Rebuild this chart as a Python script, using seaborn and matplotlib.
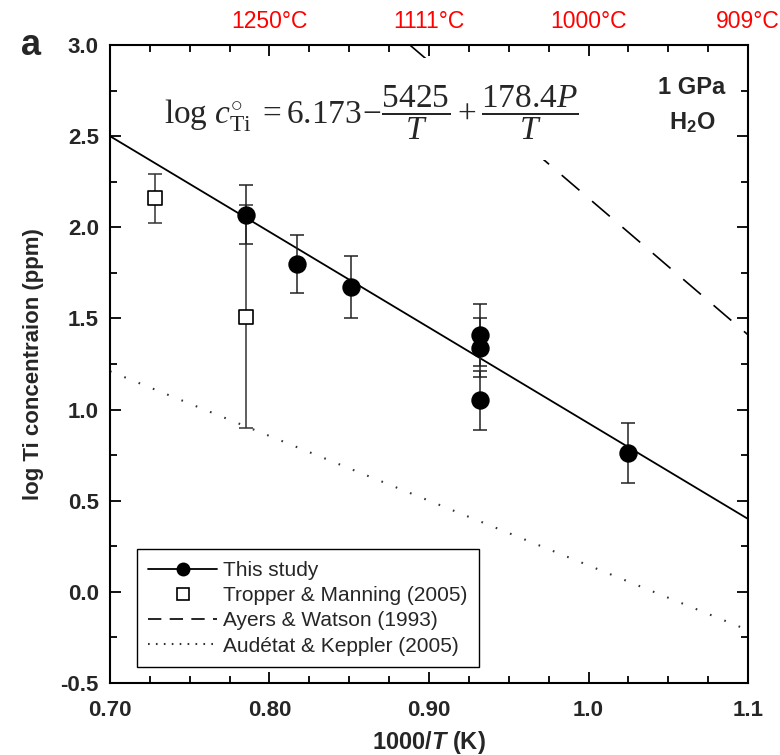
import matplotlib
matplotlib.use("Agg")
import matplotlib.pyplot as plt
import matplotlib.transforms as mtransforms
from matplotlib.lines import Line2D
from matplotlib.patches import Rectangle
from matplotlib.ticker import MultipleLocator
import pandas as pd
import seaborn as sns

# This study (filled circles) with 1-sigma bars
study_x = [0.785, 0.817, 0.851, 0.932, 0.932, 0.932, 1.025]
study_y = [2.07, 1.80, 1.67, 1.41, 1.34, 1.05, 0.76]
study_err = [0.16, 0.16, 0.17, 0.17, 0.16, 0.16, 0.165]

# Tropper & Manning (2005), open squares
tropper_x = [0.728, 0.785]
tropper_y = [2.16, 1.51]
tropper_err = [0.135, 0.61]

# fitted / literature lines (end points)
fit_x = [0.70, 1.10]
fit_y = [2.50, 0.40]
ayers_x = [0.888, 1.10]
ayers_y = [3.00, 1.41]
audetat_x = [0.70, 1.10]
audetat_y = [1.21, -0.21]

x_ticks = [0.70, 0.80, 0.90, 1.0, 1.1]
x_ticklabels = ["0.70", "0.80", "0.90", "1.0", "1.1"]
y_ticks = [-0.5, 0.0, 0.5, 1.0, 1.5, 2.0, 2.5, 3.0]
y_ticklabels = ["-0.5", "0.0", "0.5", "1.0", "1.5", "2.0", "2.5", "3.0"]

top_temp_x = [0.80, 0.90, 1.0, 1.1]
top_temp_labels = ["1250°C", "1111°C", "1000°C", "909°C"]

legend_labels = ["This study", "Tropper & Manning (2005)",
                 "Ayers & Watson (1993)", "Audétat & Keppler (2005)"]

sns.set_theme(style="ticks")
plt.rcParams["font.family"] = ["Liberation Sans", "DejaVu Sans"]
plt.rcParams["mathtext.fontset"] = "custom"
plt.rcParams["mathtext.rm"] = "Liberation Serif"
plt.rcParams["mathtext.it"] = "Liberation Serif:italic"
plt.rcParams["mathtext.bf"] = "Liberation Sans:italic:bold"
plt.rcParams["mathtext.sf"] = "Liberation Sans:bold"

fig = plt.figure(figsize=(7.8, 7.55), dpi=100)
ax = fig.add_axes([0.141, 0.0954, 0.818, 0.845])

lines_df = pd.DataFrame({
    "x": fit_x + ayers_x + audetat_x,
    "y": fit_y + ayers_y + audetat_y,
    "src": ["fit"] * 2 + ["ayers"] * 2 + ["audetat"] * 2,
})
sns.lineplot(data=lines_df[lines_df.src == "fit"], x="x", y="y", color="black",
             lw=1.3, ax=ax, legend=False, zorder=2)
sns.lineplot(data=lines_df[lines_df.src == "ayers"], x="x", y="y", color="black",
             lw=1.2, ax=ax, legend=False, zorder=2, dashes=False,
             linestyle=(0, (14, 10)))
sns.lineplot(data=lines_df[lines_df.src == "audetat"], x="x", y="y", color="#333333",
             lw=1.5, ax=ax, legend=False, zorder=2, dashes=False,
             linestyle=(0, (0.8, 6.6)))

# white box behind the equation (covers part of the dashed line as in the original)
ax.add_patch(Rectangle((0.078, 0.82), 0.674, 0.16, transform=ax.transAxes,
                       facecolor="white", edgecolor="none", zorder=3))

ax.errorbar(tropper_x, tropper_y, yerr=tropper_err, fmt="none", ecolor="#333333",
            elinewidth=1.1, capsize=5, capthick=1.1, zorder=4)
ax.errorbar(study_x, study_y, yerr=study_err, fmt="none", ecolor="#222222",
            elinewidth=1.1, capsize=5, capthick=1.1, zorder=4)

sns.scatterplot(x=tropper_x, y=tropper_y, marker="s", s=95, facecolor="white",
                edgecolor="black", linewidth=1.2, ax=ax, zorder=5)
sns.scatterplot(x=study_x, y=study_y, marker="o", s=150, color="black",
                edgecolor="black", ax=ax, zorder=5)

ax.set_xlim(0.70, 1.10)
ax.set_ylim(-0.5, 3.0)
ax.set_xticks(x_ticks)
ax.set_xticklabels(x_ticklabels, fontsize=16, fontweight="bold")
ax.set_yticks(y_ticks)
ax.set_yticklabels(y_ticklabels, fontsize=16, fontweight="bold")
ax.xaxis.set_minor_locator(MultipleLocator(0.025))
ax.yaxis.set_minor_locator(MultipleLocator(0.25))
ax.tick_params(which="both", direction="in", top=True, right=True,
               width=1.3, color="black")
ax.tick_params(which="major", length=8)
ax.tick_params(axis="x", which="major", pad=12)
ax.tick_params(axis="y", which="major", pad=8)
ax.tick_params(which="minor", length=5)
for sp in ax.spines.values():
    sp.set_linewidth(1.5)
    sp.set_color("black")

ax.set_xlabel(r"1000/$\mathbf{T}$ (K)", fontsize=17, fontweight="bold", labelpad=6)
ax.set_ylabel("log Ti concentraion (ppm)", fontsize=16, fontweight="bold", labelpad=12)

# temperature labels above the frame
trans = mtransforms.blended_transform_factory(ax.transData, fig.transFigure)
for tx, tl in zip(top_temp_x, top_temp_labels):
    ax.text(tx, 0.972, tl, transform=trans, ha="center", va="center",
            color="red", fontsize=16.5, clip_on=False)

fig.text(0.04, 0.94, "a", fontsize=26, fontweight="bold", ha="center", va="center")

ax.text(0.409, 0.893,
        r"$\log\, c^{\circ}_{\mathrm{Ti}}\; =6.173\!-\!\dfrac{5425}{T}+\dfrac{178.4P}{T}$",
        transform=ax.transAxes, ha="center", va="center", fontsize=24, zorder=6)

ax.text(0.912, 0.933, "1 GPa", transform=ax.transAxes, ha="center", va="center",
        fontsize=17, fontweight="bold", zorder=6)
ax.text(0.912, 0.878, r"H$_\mathsf{2}$O", transform=ax.transAxes, ha="center",
        va="center", fontsize=17, fontweight="bold", zorder=6)

handles = [
    Line2D([], [], color="black", lw=1.3, marker="o", markersize=9),
    Line2D([], [], color="black", lw=0, marker="s", markersize=8,
           markerfacecolor="white", markeredgewidth=1.2),
    Line2D([], [], color="black", lw=1.2, linestyle=(0, (8, 5))),
    Line2D([], [], color="#333333", lw=1.5, linestyle=(0, (0.8, 3))),
]
leg = ax.legend(handles, legend_labels, loc="lower left",
                bbox_to_anchor=(0.042, 0.025), borderaxespad=0, fontsize=15,
                frameon=True, fancybox=False, framealpha=1, edgecolor="black",
                handlelength=3.3, handletextpad=0.3, borderpad=0.55,
                labelspacing=0.3)
leg.get_frame().set_linewidth(1.0)
leg.set_zorder(7)

fig.savefig("out.png", dpi=100)
